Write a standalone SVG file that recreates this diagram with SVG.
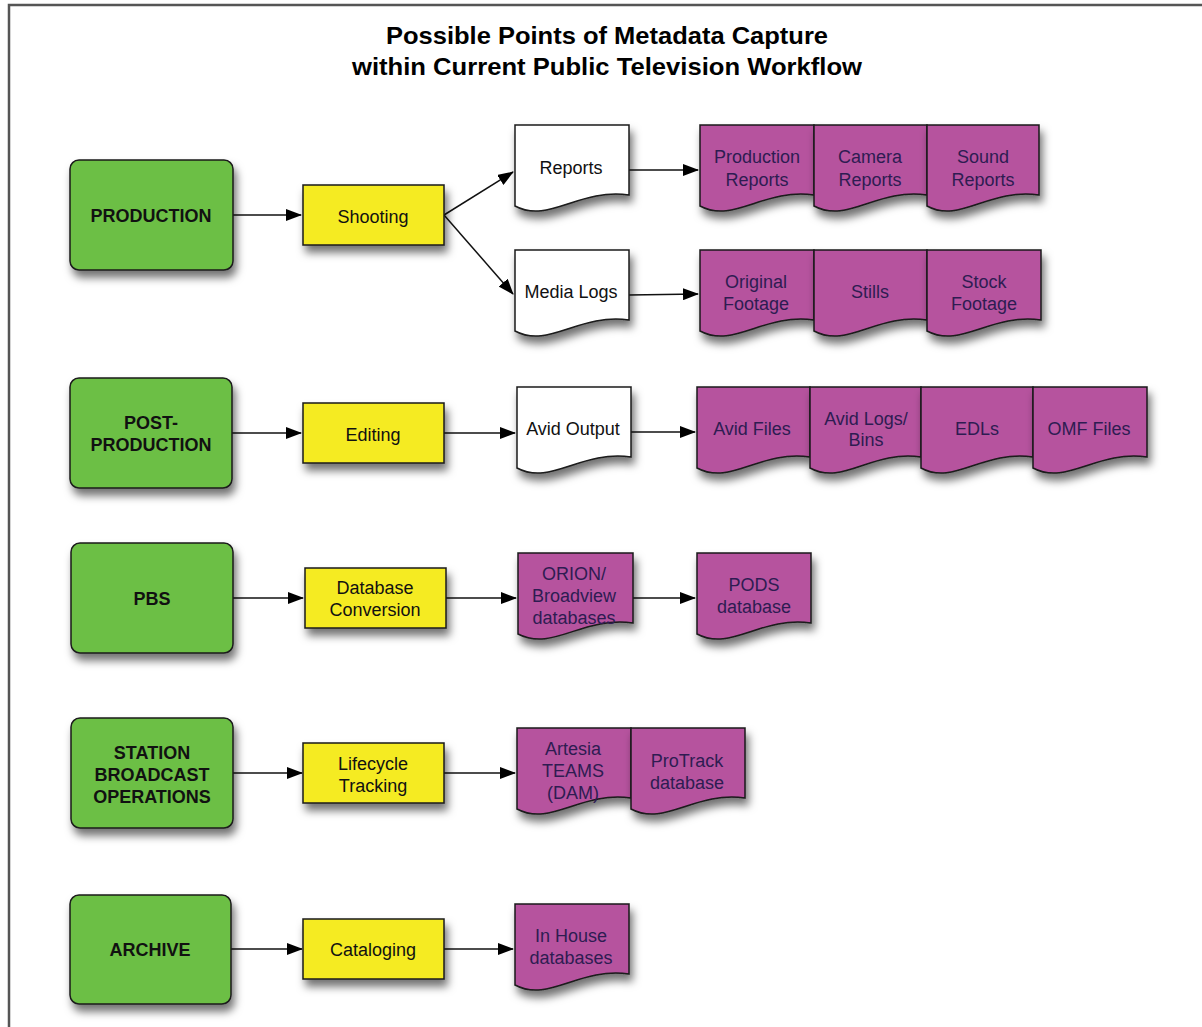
<svg xmlns="http://www.w3.org/2000/svg" width="1202" height="1027" viewBox="0 0 1202 1027">
<defs>
<filter id="sh" x="-20%" y="-20%" width="150%" height="160%">
<feDropShadow dx="3" dy="7" stdDeviation="4" flood-color="#000" flood-opacity="0.55"/>
</filter>
<marker id="ah" markerUnits="userSpaceOnUse" markerWidth="16" markerHeight="12" refX="15" refY="6" orient="auto">
<path d="M0,0 L16,6 L0,12 Z" fill="#000"/>
</marker>
<style>
.g{fill:#6cbf44;stroke:#1a1a1a;stroke-width:1.5;filter:url(#sh)}
.y{fill:#f5eb22;stroke:#1a1a1a;stroke-width:1.5;filter:url(#sh)}
.w{fill:#ffffff;stroke:#1a1a1a;stroke-width:1.5;filter:url(#sh)}
.p{fill:#b6529e;stroke:#1a1a1a;stroke-width:1.5;filter:url(#sh)}
text{font-family:"Liberation Sans",Arial,sans-serif;text-anchor:middle;dominant-baseline:central}
.gt{font-size:18px;font-weight:bold;fill:#111}
.t{font-size:18px;fill:#111}
.pt{font-size:18px;fill:#2e1c52}
.title{font-size:24px;font-weight:bold;fill:#000;dominant-baseline:auto}
.c{stroke:#111;stroke-width:1.5;fill:none;marker-end:url(#ah)}
</style>
</defs>
<rect width="1202" height="1027" fill="#fff"/>
<path d="M9,1027 V5 H1202" fill="none" stroke="#555" stroke-width="2.5"/>
<g id="title">
<text class="title" x="607" y="44" textLength="442" lengthAdjust="spacingAndGlyphs">Possible Points of Metadata Capture</text>
<text class="title" x="607" y="75" textLength="510" lengthAdjust="spacingAndGlyphs">within Current Public Television Workflow</text>
</g>
<g id="connectors">
<line class="c" x1="233" y1="215" x2="301" y2="215"/>
<line class="c" x1="444" y1="215" x2="513" y2="172"/>
<line class="c" x1="444" y1="215" x2="513" y2="294"/>
<line class="c" x1="629" y1="170" x2="698" y2="170"/>
<line class="c" x1="629" y1="295" x2="698" y2="294"/>
<line class="c" x1="232" y1="433" x2="301" y2="433"/>
<line class="c" x1="444" y1="433" x2="515" y2="433"/>
<line class="c" x1="631" y1="432" x2="695" y2="432"/>
<line class="c" x1="233" y1="598" x2="303" y2="598"/>
<line class="c" x1="446" y1="598" x2="516" y2="598"/>
<line class="c" x1="633" y1="598" x2="695" y2="598"/>
<line class="c" x1="233" y1="773" x2="302" y2="773"/>
<line class="c" x1="444" y1="773" x2="515" y2="773"/>
<line class="c" x1="231" y1="949" x2="302" y2="949"/>
<line class="c" x1="444" y1="949" x2="513" y2="949"/>
</g>
<g id="production"><rect class="g" x="70" y="160" width="163" height="110" rx="9"/><text class="gt" x="151" y="216">PRODUCTION</text></g>
<g id="postproduction"><rect class="g" x="70" y="378" width="162" height="110" rx="9"/><text class="gt" x="151" y="423">POST-</text><text class="gt" x="151" y="445">PRODUCTION</text></g>
<g id="pbs"><rect class="g" x="71" y="543" width="162" height="110" rx="9"/><text class="gt" x="152" y="599">PBS</text></g>
<g id="station"><rect class="g" x="71" y="718" width="162" height="110" rx="9"/><text class="gt" x="152" y="753">STATION</text><text class="gt" x="152" y="775">BROADCAST</text><text class="gt" x="152" y="797">OPERATIONS</text></g>
<g id="archive"><rect class="g" x="70" y="895" width="161" height="109" rx="9"/><text class="gt" x="150" y="950">ARCHIVE</text></g>

<g id="shooting"><rect class="y" x="303" y="185" width="141" height="60"/><text class="t" x="373" y="217">Shooting</text></g>
<g id="editing"><rect class="y" x="303" y="403" width="141" height="60"/><text class="t" x="373" y="435">Editing</text></g>
<g id="dbconv"><rect class="y" x="305" y="568" width="141" height="60"/><text class="t" x="375" y="588">Database</text><text class="t" x="375" y="610">Conversion</text></g>
<g id="lifecycle"><rect class="y" x="303" y="743" width="141" height="60"/><text class="t" x="373" y="764">Lifecycle</text><text class="t" x="373" y="786">Tracking</text></g>
<g id="cataloging"><rect class="y" x="303" y="919" width="141" height="60"/><text class="t" x="373" y="950">Cataloging</text></g>

<g id="reports"><path class="w" d="M515,125 H629 V195 C578,188 549,224 515,206 Z"/><text class="t" x="571" y="168">Reports</text></g>
<g id="medialogs"><path class="w" d="M515,250 H629 V320 C578,313 549,349 515,331 Z"/><text class="t" x="571" y="292">Media Logs</text></g>
<g id="avidoutput"><path class="w" d="M517,387 H631 V457 C580,450 551,486 517,468 Z"/><text class="t" x="573" y="429">Avid Output</text></g>

<g id="prodreports"><path class="p" d="M700,125 H814 V195 C763,188 734,224 700,206 Z"/><text class="pt" x="757" y="157">Production</text><text class="pt" x="757" y="180">Reports</text></g>
<g id="camreports"><path class="p" d="M814,125 H927 V195 C876,188 848,224 814,206 Z"/><text class="pt" x="870" y="157">Camera</text><text class="pt" x="870" y="180">Reports</text></g>
<g id="soundreports"><path class="p" d="M927,125 H1039 V195 C988,188 960,224 927,206 Z"/><text class="pt" x="983" y="157">Sound</text><text class="pt" x="983" y="180">Reports</text></g>

<g id="origfootage"><path class="p" d="M700,250 H814 V320 C763,313 734,349 700,331 Z"/><text class="pt" x="756" y="282">Original</text><text class="pt" x="756" y="304">Footage</text></g>
<g id="stills"><path class="p" d="M814,250 H927 V320 C876,313 848,349 814,331 Z"/><text class="pt" x="870" y="292">Stills</text></g>
<g id="stockfootage"><path class="p" d="M927,250 H1041 V320 C990,313 961,349 927,331 Z"/><text class="pt" x="984" y="282">Stock</text><text class="pt" x="984" y="304">Footage</text></g>

<g id="avidfiles"><path class="p" d="M697,387 H810 V457 C759,450 731,486 697,468 Z"/><text class="pt" x="752" y="429">Avid Files</text></g>
<g id="avidlogs"><path class="p" d="M810,387 H921 V457 C871,450 843,486 810,468 Z"/><text class="pt" x="866" y="419">Avid Logs/</text><text class="pt" x="866" y="440">Bins</text></g>
<g id="edls"><path class="p" d="M921,387 H1033 V457 C982,450 954,486 921,468 Z"/><text class="pt" x="977" y="429">EDLs</text></g>
<g id="omffiles"><path class="p" d="M1033,387 H1147 V457 C1096,450 1067,486 1033,468 Z"/><text class="pt" x="1089" y="429">OMF Files</text></g>

<g id="orion"><path class="p" d="M518,553 H633 V623 C582,616 553,652 518,634 Z"/><text class="pt" x="574" y="574">ORION/</text><text class="pt" x="574" y="596">Broadview</text><text class="pt" x="574" y="618">databases</text></g>
<g id="pods"><path class="p" d="M697,553 H811 V623 C760,616 731,652 697,634 Z"/><text class="pt" x="754" y="585">PODS</text><text class="pt" x="754" y="607">database</text></g>

<g id="artesia"><path class="p" d="M517,728 H631 V798 C580,791 551,827 517,809 Z"/><text class="pt" x="573" y="749">Artesia</text><text class="pt" x="573" y="771">TEAMS</text><text class="pt" x="573" y="793">(DAM)</text></g>
<g id="protrack"><path class="p" d="M631,728 H745 V798 C694,791 665,827 631,809 Z"/><text class="pt" x="687" y="761">ProTrack</text><text class="pt" x="687" y="783">database</text></g>

<g id="inhouse"><path class="p" d="M515,904 H629 V974 C578,967 549,1003 515,985 Z"/><text class="pt" x="571" y="936">In House</text><text class="pt" x="571" y="958">databases</text></g>
</svg>
